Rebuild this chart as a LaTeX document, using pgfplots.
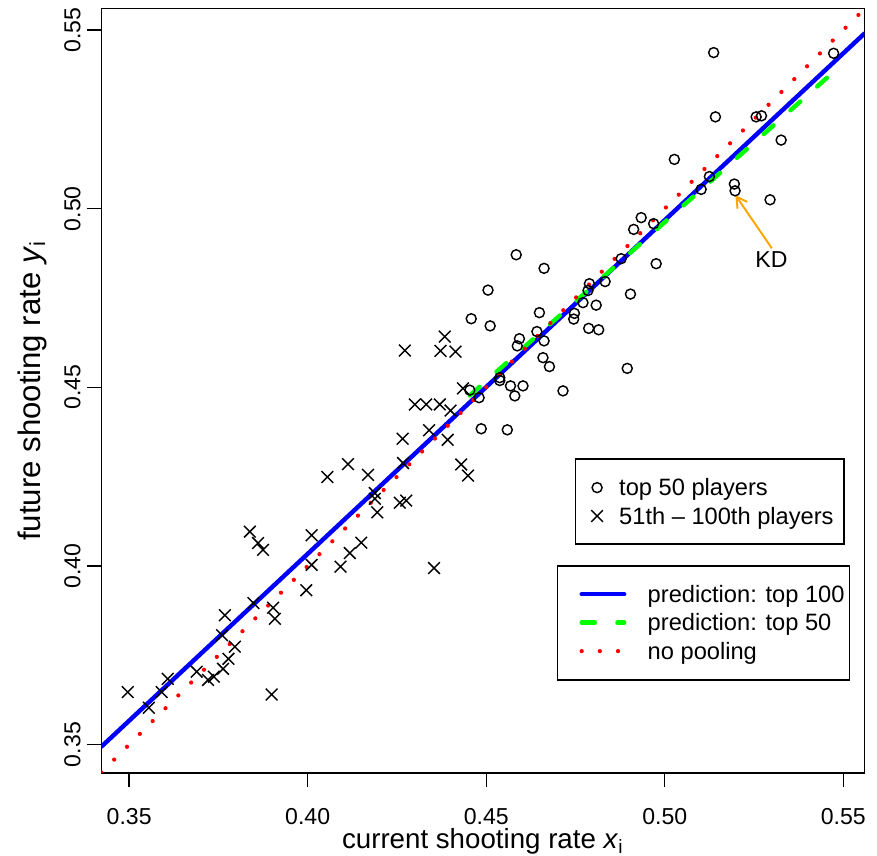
\documentclass[border=0pt]{standalone}
\usepackage{fontspec}
\setmainfont{Liberation Sans}
\usepackage{pgfplots}
\pgfplotsset{compat=1.18}
\usepackage{pgfplotstable}
\usetikzlibrary{arrows.meta}

\definecolor{fitblue}{RGB}{0,0,255}
\definecolor{fitgreen}{RGB}{0,255,0}
\definecolor{rawred}{RGB}{255,0,0}
\definecolor{kdorange}{RGB}{255,165,0}

% top 50 players: current shooting rate x, future shooting rate y
\pgfplotstableread{
x y
0.5137 0.5437
0.5473 0.5435
0.5142 0.5257
0.5256 0.5257
0.5271 0.5260
0.5326 0.5192
0.5027 0.5138
0.5125 0.5090
0.5102 0.5054
0.5195 0.5069
0.5197 0.5050
0.5295 0.5025
0.4934 0.4975
0.4913 0.4942
0.4969 0.4958
0.4878 0.4860
0.4976 0.4846
0.4584 0.4871
0.4662 0.4833
0.4505 0.4772
0.4789 0.4790
0.4785 0.4771
0.4833 0.4796
0.4904 0.4761
0.4458 0.4692
0.4511 0.4672
0.4649 0.4709
0.4771 0.4737
0.4808 0.4730
0.4747 0.4707
0.4745 0.4691
0.4787 0.4665
0.4815 0.4661
0.4642 0.4656
0.4593 0.4636
0.4587 0.4616
0.4662 0.4630
0.4659 0.4583
0.4677 0.4558
0.4895 0.4553
0.4538 0.4527
0.4568 0.4504
0.4603 0.4504
0.4580 0.4476
0.4715 0.4490
0.4454 0.4492
0.4480 0.4471
0.4486 0.4384
0.4559 0.4381
0.4538 0.4519
}\topfifty

% players ranked 51 to 100
\pgfplotstableread{
x y
0.3496 0.3647
0.3555 0.3603
0.3591 0.3647
0.3608 0.3684
0.3689 0.3704
0.3721 0.3681
0.3737 0.3690
0.3763 0.3712
0.3778 0.3740
0.3796 0.3774
0.3760 0.3806
0.3768 0.3862
0.3848 0.3896
0.3903 0.3883
0.3908 0.3852
0.3838 0.4096
0.3861 0.4064
0.3875 0.4045
0.3899 0.3640
0.4011 0.4086
0.4011 0.4003
0.3996 0.3932
0.4092 0.3998
0.4118 0.4036
0.4150 0.4065
0.4055 0.4249
0.4113 0.4285
0.4169 0.4255
0.4188 0.4204
0.4188 0.4188
0.4195 0.4150
0.4258 0.4177
0.4276 0.4183
0.4266 0.4356
0.4267 0.4288
0.4340 0.4380
0.4392 0.4353
0.4300 0.4452
0.4332 0.4452
0.4370 0.4452
0.4400 0.4435
0.4435 0.4497
0.4430 0.4284
0.4449 0.4253
0.4354 0.3994
0.4272 0.4603
0.4372 0.4602
0.4414 0.4600
0.4384 0.4642
}\nextfifty

\pgfplotsset{
  shotaxis/.style={
    scale only axis, width=396.8pt, height=397.4pt,
    xmin=0.3422, xmax=0.5559, ymin=0.3421, ymax=0.5560,
  },
  circlemark/.style={only marks, mark=o, mark size=2.6pt,
    mark options={line width=0.75pt}, black},
  crossmark/.style={only marks, mark=x, mark size=4.3pt,
    mark options={line width=0.75pt}, black},
  boxlegend/.style={
    legend cell align=left,
    legend style={draw=none, fill=none, inner sep=0pt, outer sep=0pt,
      row sep=0pt, column sep=0pt,
      nodes={inner sep=0pt, outer sep=0pt, anchor=west,
        text height=11.7pt, text depth=3.1pt,
        font=\fontsize{12.3}{14.8}\selectfont}},
  },
}

\begin{document}
\begin{tikzpicture}
\begin{axis}[shotaxis, name=ax, boxlegend,
  axis line style={line width=0.75pt},
  tick style={line width=0.75pt, black},
  tick align=outside, major tick length=7.3pt,
  xtick pos=left, ytick pos=left,
  xtick={0.35,0.40,0.45,0.50,0.55},
  xticklabels={0.35,0.40,0.45,0.50,0.55},
  ytick={0.35,0.40,0.45,0.50,0.55},
  yticklabels={0.35,0.40,0.45,0.50,0.55},
  tick label style={font=\fontsize{12}{14}\selectfont},
  xticklabel style={yshift=-7.8pt},
  yticklabel style={rotate=90, anchor=south},
  xlabel={current shooting rate \textit{x}\textsubscript{i}},
  ylabel={future shooting rate \textit{y}\textsubscript{i}},
  xlabel style={font=\fontsize{14.4}{17}\selectfont,
    at={(axis description cs:0.5,-0.0994)}, anchor=base},
  ylabel style={font=\fontsize{16.2}{19}\selectfont,
    at={(axis description cs:-0.0803,0.5)}, anchor=base},
  legend style={at={(0.5982,0.2523)}, anchor=north west},
  legend image code/.code={
    \path (0pt,0pt) (44.5pt,0pt);
    \draw[#1] (11.3pt,0pt) -- (33.4pt,0pt);
  },
]
% observed pairs
\addplot[forget plot, circlemark] table {\topfifty};
\addplot[forget plot, crossmark] table {\nextfifty};

% fitted lines and the identity line
\addplot[fitblue, line width=2.3pt, line cap=round]
  coordinates {(0.3422,0.3494) (0.5559,0.5490)};
\addlegendentry{prediction: top 100}
\addplot[fitgreen, line width=2.3pt, line cap=round,
  dash pattern=on 6.8pt off 11.8pt]
  coordinates {(0.4454,0.4477) (0.5473,0.5383)};
\addlegendentry{prediction: top 50}
\addplot[rawred, line width=2.2pt, line cap=round,
  dash pattern=on 0pt off 9.44pt]
  coordinates {(0.3422,0.3422) (0.5559,0.5559)};
\addlegendentry{no pooling}

% legend frames
\draw[line width=0.75pt] (rel axis cs:0.6218,0.2992) rectangle (rel axis cs:0.9734,0.4108);
\draw[line width=0.75pt] (rel axis cs:0.5982,0.1217) rectangle (rel axis cs:0.9803,0.2708);

% annotation
\draw[kdorange, line width=1pt, -{Straight Barb[length=5.4pt, width=6.2pt]}]
  (axis cs:0.5300,0.4889) -- (axis cs:0.5198,0.5038);
\node[font=\fontsize{12}{14}\selectfont] at (axis cs:0.5299,0.4857) {KD};
\end{axis}

% symbol legend
\begin{axis}[shotaxis, hide axis, boxlegend,
  legend style={at={(0.6218,0.3918)}, anchor=north west},
  legend image code/.code={
    \path (0pt,0pt) (22.2pt,0pt);
    \draw[#1] plot coordinates {(10.9pt,0pt)};
  },
]
\addlegendimage{circlemark}
\addlegendentry{top 50 players}
\addlegendimage{crossmark}
\addlegendentry{51th – 100th players}
\end{axis}

\pgfresetboundingbox
\path ([xshift=-52.7pt,yshift=-43.2pt]ax.south west)
  rectangle ([xshift=6.6pt,yshift=4.5pt]ax.north east);
\end{tikzpicture}
\end{document}
